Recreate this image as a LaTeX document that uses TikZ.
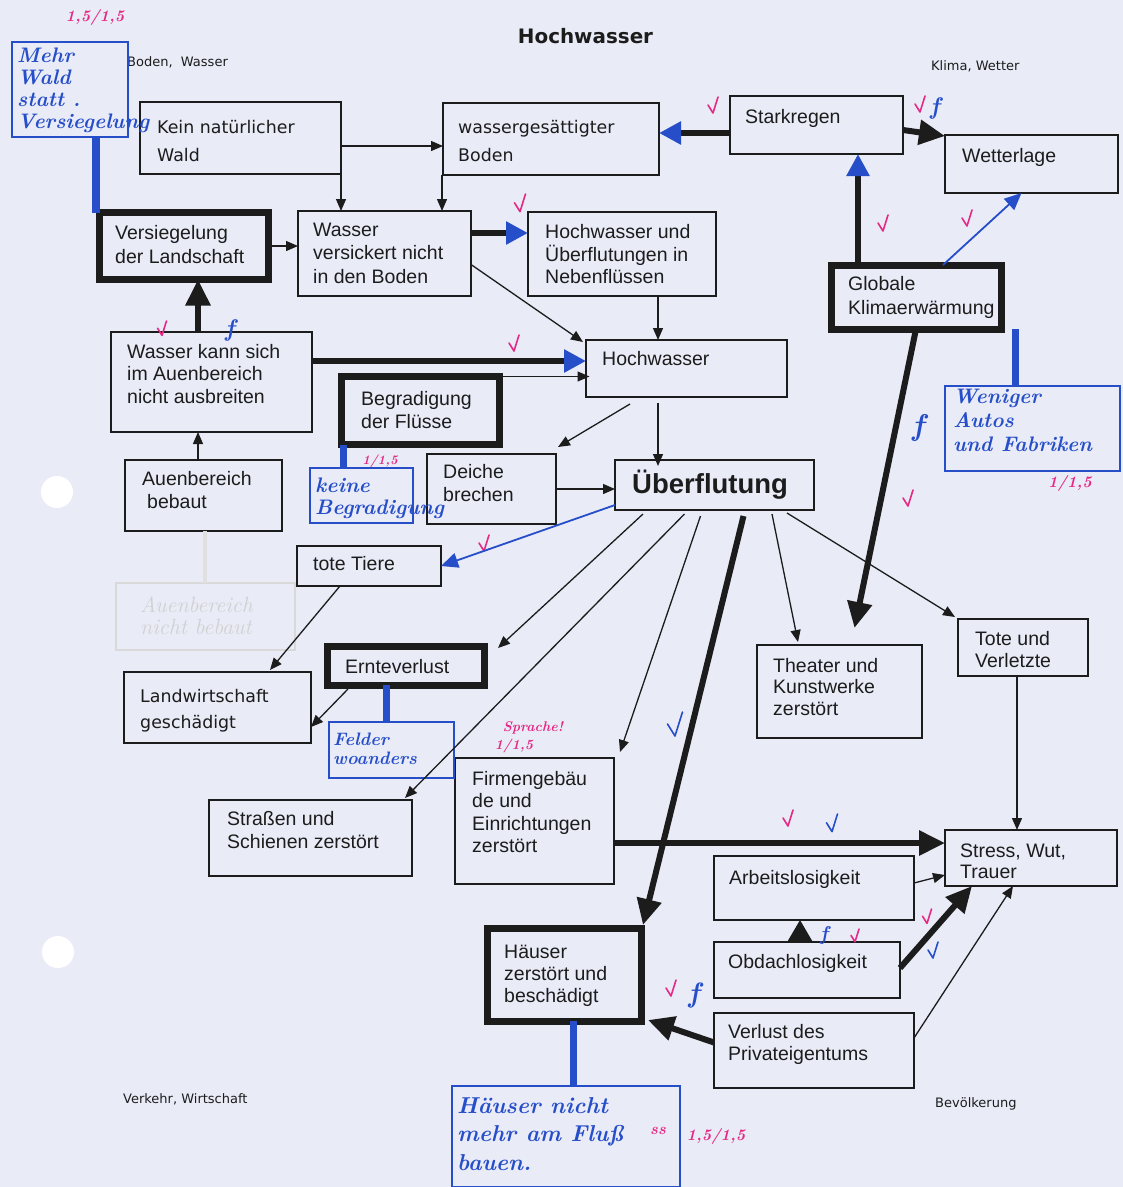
\documentclass[tikz,border=0pt]{standalone}
\usepackage{fontspec}
\newfontfamily\arial{Liberation Sans}
\newfontfamily\comic{DejaVu Sans}
\usetikzlibrary{arrows.meta,calc}
\definecolor{paper}{RGB}{233,235,247}
\definecolor{pen}{RGB}{38,78,200}
\definecolor{pinkpen}{RGB}{228,42,132}
\definecolor{ink}{RGB}{28,28,28}
\newcommand\bx[6]{\node[#2,anchor=north west,minimum width={#5-#3},minimum height={#6-#4}] (#1) at (#3,#4) {};}
\newcommand\tx[5]{\node[#2,anchor=base west,inner sep=0pt] (#1) at (#3,#4) {\begin{tabular}[t]{@{}l@{}}#5\end{tabular}};}
\newcommand\chk[4]{\draw[#1,line width=1.6pt,line cap=round,line join=round] (#2-5*#4,#3-2*#4) -- (#2,#3+6*#4) -- (#2+5*#4,#3-10*#4);}
\tikzset{
  box/.style={draw=ink,line width=1.4pt,rectangle,inner sep=0pt,outer sep=0pt},
  tbox/.style={box,line width=7pt},
  hbox/.style={draw=pen,line width=1.8pt,rectangle,inner sep=0pt,outer sep=0pt},
  gbox/.style={draw=black!15,line width=1.2pt,rectangle,inner sep=0pt,outer sep=0pt},
  atxt/.style={font=\arial\fontsize{19.5}{22.5}\selectfont,text=ink},
  ctxt/.style={font=\comic\fontsize{17.4}{28.5}\selectfont,text=ink},
  labtxt/.style={font=\comic\fontsize{13}{15}\selectfont,text=ink},
  handw/.style={font=\rmfamily\bfseries\itshape\fontsize{21}{22.5}\selectfont,text=pen},
  pinkw/.style={font=\rmfamily\bfseries\itshape\fontsize{16}{17}\selectfont,text=pinkpen},
  arr/.style={draw=ink,line width=1.3pt,-{Triangle[length=12pt,width=10pt]}},
  thk/.style={draw=ink,line width=6pt,-{Triangle[length=26pt,width=24pt]}},
  thkb/.style={draw=ink,line width=6pt,-{Triangle[length=22pt,width=22pt,color=pen]}},
  blarr/.style={draw=pen,line width=1.8pt,-{Triangle[length=17pt,width=15pt]}},
  blink/.style={draw=pen,line width=7pt},
}
\begin{document}
\begin{tikzpicture}[x=1pt,y=-1pt]
\fill[paper] (0,0) rectangle (1123,1187);
\useasboundingbox (0,0) rectangle (1123,1187);
\fill[white] (57,492) circle[radius=16pt];
\fill[white] (58,952) circle[radius=16pt];

% titles
\node[font=\comic\bfseries\fontsize{19.9}{24}\selectfont,text=ink,anchor=base,inner sep=0pt] (title) at (585.5,43) {Hochwasser};
\tx{lab1}{labtxt}{127}{66}{Boden,\ \ Wasser}
\tx{lab2}{labtxt}{931}{70}{Klima, Wetter}
\tx{lab3}{labtxt}{123}{1103}{Verkehr, Wirtschaft}
\tx{lab4}{labtxt}{935}{1107}{Bevölkerung}

% boxes
\bx{kein}{box}{140}{102}{341}{174}
\bx{wgb}{box}{443}{103}{659}{175}
\bx{stark}{box}{730}{96}{903}{154}
\bx{wetter}{box}{945}{135}{1118}{193}
\bx{vers}{tbox}{99.5}{212.5}{268.5}{279.5}
\bx{wvn}{box}{298}{211}{471}{296}
\bx{hwneb}{box}{528}{212}{716}{296}
\bx{glob}{tbox}{831}{265}{1001}{329}
\bx{wks}{box}{111}{332}{312}{432}
\bx{hw}{box}{586}{340}{787}{397}
\bx{begr}{tbox}{341.5}{376.5}{499.5}{444.5}
\bx{deich}{box}{427}{454}{556}{524}
\bx{ueber}{box}{615}{460}{814}{510}
\bx{aueb}{box}{125}{460}{282}{531}
\bx{tote}{box}{297}{546}{441}{586}
\bx{ghost}{gbox}{116}{583}{295}{650}
\bx{ernte}{tbox}{327}{646}{484}{685}
\bx{landw}{box}{124}{672}{311}{743}
\bx{theat}{box}{757}{645}{922}{738}
\bx{totev}{box}{958}{619}{1088}{676}
\bx{firm}{box}{455}{758}{614}{884}
\bx{strassen}{box}{209}{800}{412}{876}
\bx{stress}{box}{945}{830}{1117}{886}
\bx{arb}{box}{714}{856}{914}{920}
\bx{obd}{box}{714}{942}{900}{998}
\bx{haus}{tbox}{487}{928}{641}{1021}
\bx{verl}{box}{714}{1013}{914}{1088}
% handwritten boxes
\bx{mehr}{hbox}{12}{42}{128}{137}
\bx{keine}{hbox}{310}{468}{413}{523}
\bx{felder}{hbox}{329}{722}{454}{778}
\bx{wenig}{hbox}{945}{386}{1120}{471}
\bx{hnm}{hbox}{452}{1086}{680}{1187}

% texts
\tx{keint}{ctxt}{157}{133}{Kein natürlicher\\Wald}
\tx{wgbt}{ctxt}{458}{133}{wassergesättigter\\Boden}
\tx{starkt}{atxt}{745}{123}{Starkregen}
\tx{wettert}{atxt}{962}{162}{Wetterlage}
\tx{verst}{atxt,font=\arial\fontsize{19.5}{24}\selectfont}{115}{239}{Versiegelung\\der Landschaft}
\tx{wvnt}{atxt,font=\arial\fontsize{19.5}{23.5}\selectfont}{313}{236}{Wasser\\versickert nicht\\in den Boden}
\tx{hwnebt}{atxt}{545}{238}{Hochwasser und\\Überflutungen in\\Nebenflüssen}
\tx{globt}{atxt,font=\arial\fontsize{19.5}{24}\selectfont}{848}{290}{Globale\\Klimaerwärmung}
\tx{wkst}{atxt}{127}{358}{Wasser kann sich\\im Auenbereich\\nicht ausbreiten}
\tx{hwt}{atxt}{602}{365}{Hochwasser}
\tx{begrt}{atxt,font=\arial\fontsize{19.5}{23}\selectfont}{361}{405}{Begradigung\\der Flüsse}
\tx{deicht}{atxt,font=\arial\fontsize{19.5}{23.5}\selectfont}{443}{478}{Deiche\\brechen}
\tx{uebert}{font=\arial\bfseries\fontsize{27.5}{30}\selectfont,text=ink}{632}{493}{Überflutung}
\tx{auebt}{atxt,font=\arial\fontsize{19.5}{23}\selectfont}{142}{485}{Auenbereich\\\hspace*{5pt}bebaut}
\tx{totet}{atxt}{313}{570}{tote Tiere}
\tx{erntet}{atxt}{345}{673}{Ernteverlust}
\tx{landwt}{ctxt,font=\comic\fontsize{17.4}{26}\selectfont}{140}{702}{Landwirtschaft\\geschädigt}
\tx{theatt}{atxt,font=\arial\fontsize{19.5}{21.5}\selectfont}{773}{672}{Theater und\\Kunstwerke\\zerstört}
\tx{totevt}{atxt,font=\arial\fontsize{19.5}{22}\selectfont}{975}{645}{Tote und\\Verletzte}
\tx{firmt}{atxt}{472}{785}{Firmengebäu\\de und\\Einrichtungen\\zerstört}
\tx{strassent}{atxt,font=\arial\fontsize{19.5}{23}\selectfont}{227}{825}{Straßen und\\Schienen zerstört}
\tx{stresst}{atxt,font=\arial\fontsize{19.5}{21.5}\selectfont}{960}{857}{Stress, Wut,\\Trauer}
\tx{arbt}{atxt}{729}{884}{Arbeitslosigkeit}
\tx{obdt}{atxt}{728}{968}{Obdachlosigkeit}
\tx{haust}{atxt,font=\arial\fontsize{19.5}{22}\selectfont}{504}{958}{Häuser\\zerstört und\\beschädigt}
\tx{verlt}{atxt,font=\arial\fontsize{19.5}{22}\selectfont}{728}{1038}{Verlust des\\Privateigentums}

% handwriting
\tx{mehrt}{handw,font=\rmfamily\bfseries\itshape\fontsize{21}{22}\selectfont}{17}{62}{Mehr\\Wald\\statt .\\Versiegelung}
\tx{keinet}{handw}{315}{492}{keine\\Begradigung}
\tx{feldert}{handw,font=\rmfamily\bfseries\itshape\fontsize{18}{19}\selectfont}{333}{745}{Felder\\woanders}
\tx{wenigt}{handw,font=\rmfamily\bfseries\itshape\fontsize{21}{24}\selectfont}{953}{403}{Weniger\\Autos\\und Fabriken}
\tx{hnmt}{handw,font=\rmfamily\bfseries\itshape\fontsize{23}{28.5}\selectfont}{457}{1113}{Häuser nicht\\mehr am Fluß\\bauen.}
\tx{ghostt}{handw,font=\rmfamily\itshape\fontsize{22}{22.5}\selectfont,text=black!18}{140}{612}{Auenbereich\\nicht bebaut}

% pink marks
\node[pinkw] (p1) at (95,17) {1,5/1,5};
\node[pinkw,font=\rmfamily\bfseries\itshape\fontsize{13}{14}\selectfont] (p2) at (380,461) {1/1,5};
\node[pinkw] (p3) at (1070,483) {1/1,5};
\node[pinkw,font=\rmfamily\bfseries\itshape\fontsize{14}{15}\selectfont] (p4) at (533,728) {Sprache!};
\node[pinkw,font=\rmfamily\bfseries\itshape\fontsize{14}{15}\selectfont] (p5) at (514,746) {1/1,5};
\node[pinkw] (p6) at (716,1136) {1,5/1,5};
\node[pinkw] (p7) at (658,1131) {ss};
\chk{pinkpen}{713}{107}{1}
\chk{pinkpen}{920}{106}{1}
\chk{pinkpen}{520}{205}{1.1}
\chk{pinkpen}{883}{225}{1}
\chk{pinkpen}{967}{220}{1}
\chk{pinkpen}{162}{330}{0.9}
\chk{pinkpen}{514}{345}{1}
\chk{pinkpen}{484}{545}{1}
\chk{pinkpen}{908}{500}{1}
\chk{pinkpen}{788}{820}{1}
\chk{pinkpen}{855}{937}{0.8}
\chk{pinkpen}{927}{918}{0.9}
\chk{pinkpen}{671}{990}{1}
\chk{pen}{675}{727}{1.5}
\chk{pen}{832}{825}{1.1}
\chk{pen}{933}{952}{1}
\node[handw,font=\rmfamily\bfseries\itshape\fontsize{24}{24}\selectfont] (f1) at (935,108) {f};
\node[handw,font=\rmfamily\bfseries\itshape\fontsize{24}{24}\selectfont] (f2) at (230,330) {f};
\node[handw,font=\rmfamily\bfseries\itshape\fontsize{30}{30}\selectfont] (f3) at (918,428) {f};
\node[handw,font=\rmfamily\bfseries\itshape\fontsize{20}{20}\selectfont] (f4) at (824,935) {f};
\node[handw,font=\rmfamily\bfseries\itshape\fontsize{28}{28}\selectfont] (f5) at (694,995) {f};

% connectors
\draw[arr] ([yshift=-8pt]kein.east) -- ([yshift=-8pt]kein.east -| wgb.west);
\draw[arr] (kein.south east) -- (kein.south east |- wvn.north);
\draw[arr] ([xshift=-1pt]wgb.south west) -- ([xshift=-1pt]wgb.south west |- wvn.north);
\draw[thkb] ([yshift=-8pt]stark.west) -- ([yshift=-8pt]stark.west -| wgb.east);
\draw[thk] ([yshift=-5pt]stark.east) -- ([yshift=-1pt]wetter.north west);
\draw[thkb] ([xshift=-58pt]glob.north) -- ([xshift=-58pt]glob.north |- stark.south);
\draw[blarr] ([xshift=27pt]glob.north) -- ([xshift=-10pt]wetter.south);
\draw[arr] (vers.east) -- (vers.east -| wvn.west);
\draw[thkb] ([yshift=20.5pt]wvn.east) -- ([yshift=20.5pt]wvn.east -| hwneb.west);
\draw[arr] ([yshift=-11pt]wvn.east) -- ([xshift=-3pt,yshift=-2pt]hw.north west);
\draw[arr] ([xshift=36pt]hwneb.south) -- ([xshift=36pt]hwneb.south |- hw.north);
\draw[thk] ([xshift=-13.5pt]wks.north) -- ([xshift=-13.5pt]wks.north |- vers.south);
\draw[thkb] ([yshift=21pt]wks.east) -- ([yshift=21pt]wks.east -| hw.west);
\draw[arr] ([xshift=3.5pt]begr.north east) -- ([xshift=3.5pt]begr.north east -| hw.west);
\draw[arr] ([xshift=-5.5pt]aueb.north) -- ([xshift=-5.5pt]aueb.north |- wks.south);
\draw[arr] ([xshift=-56.5pt,yshift=-7pt]hw.south) -- ([xshift=2pt,yshift=7pt]deich.north east);
\draw[arr] ([xshift=-28.5pt,yshift=-6pt]hw.south) -- ([xshift=-28.5pt,yshift=-6pt]hw.south |- ueber.north);
\draw[arr] (deich.east) -- (deich.east -| ueber.west);
\draw[blarr] ([yshift=5pt]ueber.south west) -- (tote.east);
\draw[arr] ([xshift=-29pt]tote.south) -- ([xshift=-41pt,yshift=2pt]landw.north east);
\draw[arr] ([xshift=21pt,yshift=-4pt]ernte.south west) -- ([yshift=-19.5pt]landw.east);
\draw[arr] ([xshift=-71.5pt,yshift=-4pt]ueber.south) -- ([xshift=14pt,yshift=-2pt]ernte.north east);
\draw[arr] ([xshift=-30pt,yshift=-4pt]ueber.south) -- ([xshift=-7pt,yshift=2pt]strassen.north east);
\draw[arr] ([xshift=-14pt,yshift=-6pt]ueber.south) -- ([xshift=6pt,yshift=6pt]firm.north east);
\draw[thk] ([xshift=29pt,yshift=-6pt]ueber.south) -- ([xshift=2pt,yshift=3pt]haus.north east);
\draw[arr] ([xshift=-42pt,yshift=-4pt]ueber.south east) -- ([xshift=-41.5pt,yshift=3pt]theat.north);
\draw[arr] ([xshift=-27pt,yshift=-3pt]ueber.south east) -- ([xshift=-3pt,yshift=2pt]totev.north west);
\draw[thk] (glob.south) -- ([xshift=15pt,yshift=17pt]theat.north);
\draw[arr] ([xshift=-6pt]totev.south) -- ([xshift=-6pt]totev.south |- stress.north);
\draw[thk] ([yshift=-22pt]firm.east) -- ([yshift=-22pt]firm.east -| stress.west);
\draw[arr] ([yshift=5pt]arb.east) -- ([yshift=-17pt]stress.west);
\draw[thk] ([yshift=2pt]obd.east) -- ([xshift=27pt]stress.south west);
\draw[arr] ([yshift=12.5pt]verl.east) -- ([xshift=-18pt]stress.south);
\draw[draw=ink,line width=2pt,-{Triangle[length=21pt,width=24pt]}] ([xshift=-7pt]obd.north) -- ([xshift=-7pt]obd.north |- arb.south);
\draw[thk] ([yshift=8pt]verl.west) -- ([xshift=7pt,yshift=1pt]haus.south east);

% handwritten links
\draw[blink,line width=8pt] ([xshift=26pt]mehr.south) -- ([xshift=26pt]mehr.south |- vers.north);
\draw[blink] ([xshift=-18.5pt]keine.north) -- ([xshift=-18.5pt]keine.north |- begr.south);
\draw[blink] ([xshift=-5.5pt]felder.north) -- ([xshift=-5.5pt]felder.north |- ernte.south);
\draw[blink] ([xshift=-17.5pt]wenig.north) -- ([xshift=-17.5pt]wenig.north |- glob.south);
\draw[blink] ([xshift=7pt]hnm.north) -- ([xshift=7pt]hnm.north |- haus.south);
\draw[draw=black!12,line width=4pt] ([xshift=1.5pt]aueb.south) -- ([xshift=1.5pt]aueb.south |- ghost.north);
\end{tikzpicture}
\end{document}
